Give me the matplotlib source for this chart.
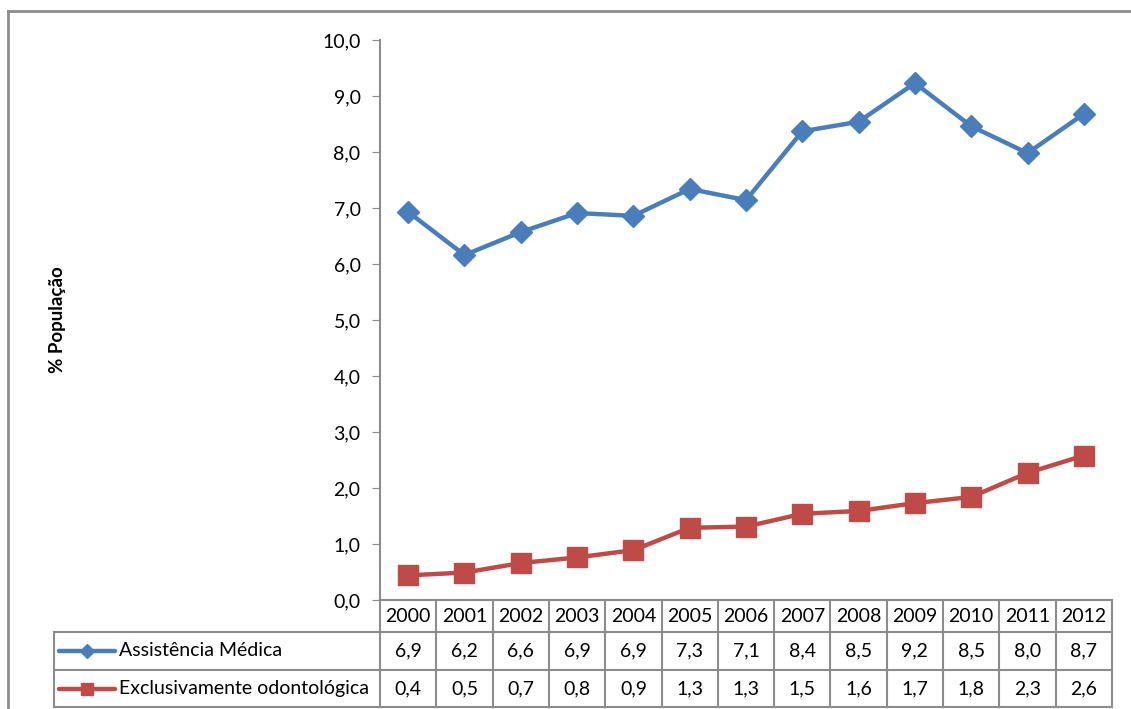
import matplotlib
matplotlib.use("Agg")
import matplotlib.pyplot as plt
from matplotlib.lines import Line2D

# data
years = [2000, 2001, 2002, 2003, 2004, 2005, 2006, 2007, 2008, 2009, 2010, 2011, 2012]
medica = [6.93, 6.16, 6.57, 6.91, 6.86, 7.34, 7.14, 8.37, 8.54, 9.23, 8.46, 7.98, 8.68]
odonto = [0.44, 0.49, 0.66, 0.76, 0.89, 1.29, 1.31, 1.54, 1.59, 1.73, 1.84, 2.27, 2.58]
series_names = ["Assistência Médica", "Exclusivamente odontológica"]
y_ticks = [0, 1, 2, 3, 4, 5, 6, 7, 8, 9, 10]

BLUE = "#4A7EBB"
RED = "#BE4B48"
GRID = "#8C8C8C"
W, H = 1131, 709
FS = 14

plt.rcParams['font.family'] = ['Lato', 'DejaVu Sans']

fig = plt.figure(figsize=(W / 100, H / 100), dpi=100)


def fx(px):
    return px / W


def fy(py):
    return 1 - py / H


# outer chart border (top and left visible)
fig.add_artist(Line2D([fx(8), fx(8)], [fy(11), fy(H)], color=GRID, lw=2))
fig.add_artist(Line2D([fx(8), 1], [fy(11), fy(11)], color=GRID, lw=2))

# main plot area
left, right, top, bottom = 380, 1112, 40, 600
ax = fig.add_axes([fx(left), fy(bottom), fx(right - left), fy(top) - fy(bottom)])
x = list(range(len(years)))
ax.plot(x, medica, color=BLUE, lw=3.2, marker='D', markersize=11, zorder=3)
ax.plot(x, odonto, color=RED, lw=3.2, marker='s', markersize=14, zorder=3)
ax.set_xlim(-0.5, len(years) - 0.5)
ax.set_ylim(0, 10)
ax.set_yticks(y_ticks)
ax.set_yticklabels([f"{v:.1f}".replace(".", ",") for v in y_ticks], fontsize=FS)
ax.set_xticks([])
ax.tick_params(axis='y', direction='out', length=6, color=GRID, pad=8)
for s in ['top', 'right']:
    ax.spines[s].set_visible(False)
for s in ['left', 'bottom']:
    ax.spines[s].set_color(GRID)
    ax.spines[s].set_linewidth(1.5)

fig.text(fx(57), fy(320), "% População", rotation=90, fontsize=13.5,
         fontweight='bold', ha='center', va='center')

# data table below the axes
tleft = 54
col_w = (right - left) / len(years)
tab = fig.add_axes([fx(tleft), fy(707), fx(right - tleft), fy(600) - fy(707)])
xl = -0.5 - (left - tleft) / col_w
xr = len(years) - 0.5
tab.set_xlim(xl, xr)
tab.set_ylim(707, 600)
tab.axis('off')

rows = [600, 632, 670, 707]
lkw = dict(color=GRID, lw=1.5, clip_on=False)
# horizontal lines
tab.plot([-0.5, xr], [rows[0], rows[0]], **lkw)
for r in rows[1:]:
    tab.plot([xl, xr], [r, r], **lkw)
# vertical lines
for i in range(len(years) + 1):
    tab.plot([i - 0.5, i - 0.5], [rows[0], rows[3]], **lkw)
tab.plot([xl, xl], [rows[1], rows[3]], **lkw)

for i, yr in enumerate(years):
    tab.text(i, (rows[0] + rows[1]) / 2, str(yr), ha='center', va='center', fontsize=FS)
    tab.text(i, (rows[1] + rows[2]) / 2, f"{medica[i]:.1f}".replace(".", ","),
             ha='center', va='center', fontsize=FS)
    tab.text(i, (rows[2] + rows[3]) / 2, f"{odonto[i]:.1f}".replace(".", ","),
             ha='center', va='center', fontsize=FS)

# legend keys inside the table
key_x0 = xl + 5 / col_w
key_x1 = xl + 61 / col_w
key_xm = (key_x0 + key_x1) / 2
for j, (name, col, mk, ms) in enumerate([(series_names[0], BLUE, 'D', 7),
                                         (series_names[1], RED, 's', 9)]):
    yc = (rows[j + 1] + rows[j + 2]) / 2
    tab.plot([key_x0, key_x1], [yc, yc], color=col, lw=3.2, solid_capstyle='round', clip_on=False)
    tab.plot([key_xm], [yc], color=col, marker=mk, markersize=ms, clip_on=False)
    tab.text(key_x1 + 4 / col_w, yc, name, ha='left', va='center', fontsize=FS)

fig.savefig("out.png", dpi=100)
